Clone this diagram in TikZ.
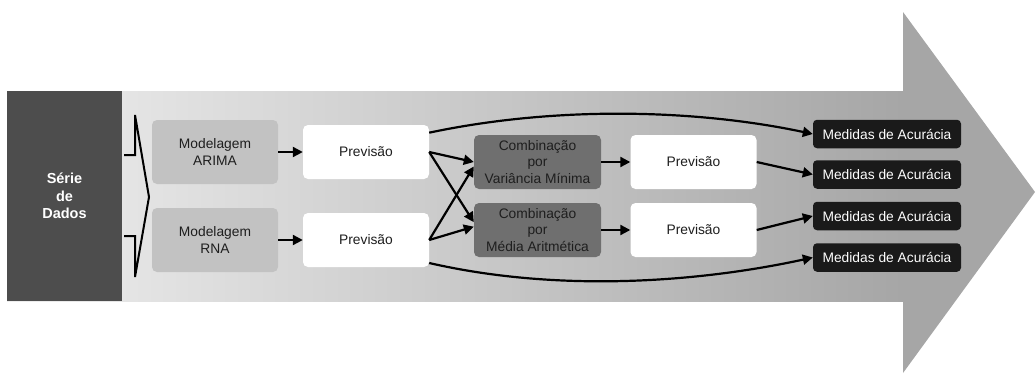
\documentclass[tikz,border=0pt]{standalone}
\usepackage{fontspec}
\setmainfont{Liberation Sans}
\usetikzlibrary{arrows.meta}
\definecolor{bglight}{HTML}{EEEEEE}
\definecolor{bgdark}{HTML}{A6A6A6}
\definecolor{seriecol}{HTML}{4D4D4D}
\definecolor{modcol}{HTML}{C2C2C2}
\definecolor{combcol}{HTML}{6F6F6F}
\definecolor{medcol}{HTML}{1A1A1A}
\definecolor{txtdark}{HTML}{1E1E1E}
\begin{document}
\begin{tikzpicture}[x=1pt,y=-1pt,
  every node/.style={font=\fontsize{13.8}{16.8}\selectfont, align=center, inner sep=0pt},
  modbox/.style={fill=modcol, rounded corners=5pt, minimum width=126pt, minimum height=64pt, text=txtdark},
  prevbox/.style={fill=white, rounded corners=5pt, minimum width=126pt, minimum height=54pt, text=txtdark},
  combbox/.style={fill=combcol, rounded corners=5pt, minimum width=127pt, minimum height=54pt, text=txtdark},
  medbox/.style={fill=medcol, rounded corners=4pt, minimum width=148pt, minimum height=28.5pt, text=white},
  conn/.style={line width=2.2pt, draw=black, -{Triangle[length=10pt,width=10pt]}}
]
\useasboundingbox (0,0) rectangle (1036,375);
% big arrow
\fill[bgdark] (903,12) -- (1035,192) -- (903,373) -- cycle;
\shade[left color=bglight, right color=bgdark] (7,91) rectangle (904,301);
% serie box
\node[fill=seriecol, minimum width=115pt, minimum height=210pt, text=white,
      font=\fontsize{14.5}{17.5}\selectfont\bfseries] (serie) at (64.5,196) {Série\\de\\Dados};
% bracket
\draw[line width=2pt, line join=miter] (124,155) -- (135,155) -- (135,115) -- (149,197) -- (135,277) -- (135,236) -- (124,236);
% nodes
\node[modbox] (arima) at (215,152) {Modelagem\\ARIMA};
\node[modbox] (rna) at (215,240) {Modelagem\\RNA};
\node[prevbox] (prev1) at (366,152) {Previsão};
\node[prevbox] (prev2) at (366,240) {Previsão};
\node[combbox] (comb1) at (537.5,162) {Combinação\\por\\Variância Mínima};
\node[combbox] (comb2) at (537.5,230) {Combinação\\por\\Média Aritmética};
\node[prevbox] (prev3) at (693.5,162) {Previsão};
\node[prevbox] (prev4) at (693.5,230) {Previsão};
\node[medbox] (med1) at (887,134) {Medidas de Acurácia};
\node[medbox] (med2) at (887,174.5) {Medidas de Acurácia};
\node[medbox] (med3) at (887,216) {Medidas de Acurácia};
\node[medbox] (med4) at (887,257.5) {Medidas de Acurácia};
% connectors
\draw[conn] (arima) -- (prev1);
\draw[conn] (rna) -- (prev2);
\draw[conn] (prev1.east) -- (comb1.west);
\draw[conn] (prev1.east) -- (comb2.173);
\draw[conn] (prev2.east) -- (comb1.184);
\draw[conn] (prev2.east) -- (comb2.177);
\draw[conn] (comb1) -- (prev3);
\draw[conn] (comb2) -- (prev4);
\draw[conn] (prev3.east) -- (med2.west);
\draw[conn] (prev4.east) -- (med3.west);
\draw[conn] (prev1.17) .. controls (560,105) and (700,110) .. (med1.west);
\draw[conn] (prev2.-20) .. controls (560,293) and (700,282) .. (med4.west);
\end{tikzpicture}
\end{document}
